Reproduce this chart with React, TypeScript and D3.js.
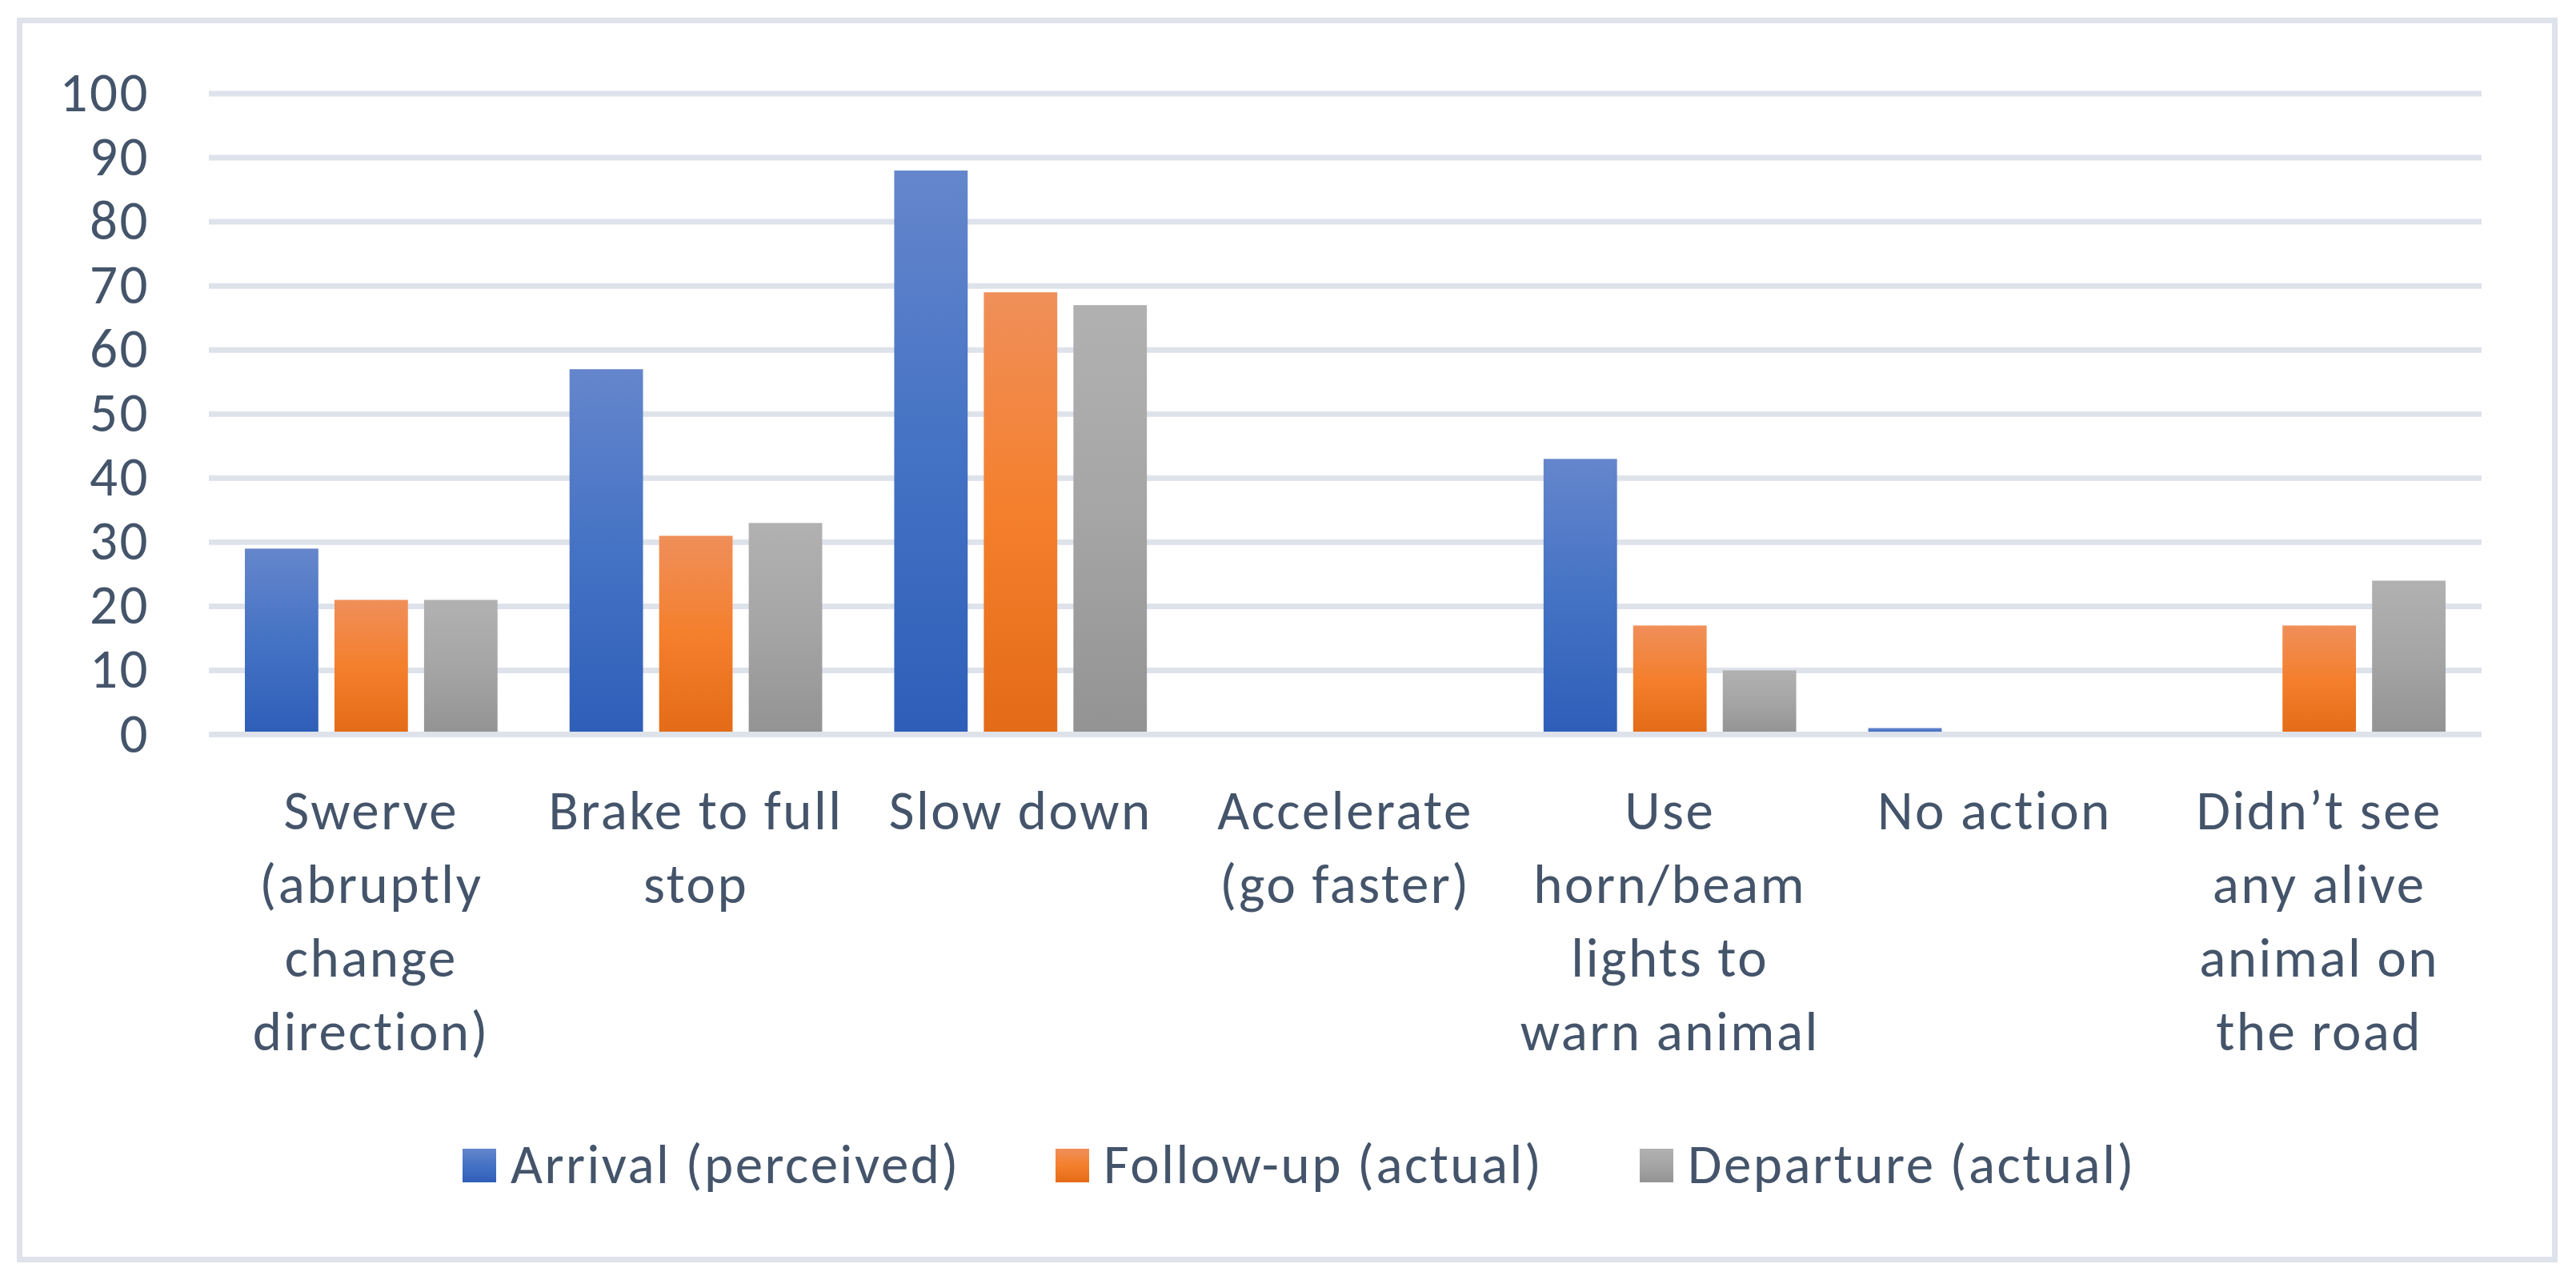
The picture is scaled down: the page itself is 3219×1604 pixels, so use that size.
import React, { useEffect, useRef } from 'react';
import * as d3 from 'd3';

// categories (line breaks as they wrap under the axis)
const categoryLabels: string[][] = [
  ['Swerve', '(abruptly', 'change', 'direction)'],
  ['Brake to full', 'stop'],
  ['Slow down'],
  ['Accelerate', '(go faster)'],
  ['Use', 'horn/beam', 'lights to', 'warn animal'],
  ['No action'],
  ['Didn’t see', 'any alive', 'animal on', 'the road'],
];
const categories = categoryLabels.map(l => l.join(' '));

const seriesNames = ['Arrival (perceived)', 'Follow-up (actual)', 'Departure (actual)'];
const arrival = [29, 57, 88, 0, 43, 1, 0];
const followUp = [21, 31, 69, 0, 17, 0, 17];
const departure = [21, 33, 67, 0, 10, 0, 24];
const seriesValues = [arrival, followUp, departure];

const yTicks = [0, 10, 20, 30, 40, 50, 60, 70, 80, 90, 100];

// gradient stops per series: top, middle, bottom
const gradients = [
  ['#6586CC', '#4472C4', '#2E5EB8'],
  ['#F08F5A', '#F47F2C', '#E36B17'],
  ['#B1B1B1', '#A5A5A5', '#939393'],
];

const W = 3219;
const H = 1604;
const FONT = 'Carlito, Calibri, Lato, sans-serif';
const FONT_SIZE = 69;
const SPACING = 2.5; // Lato is a bit narrower than Calibri
const TEXT = '#44546A';
const GRID = '#DEE2EA';

const App: React.FC = () => {
  const svgRef = useRef<SVGSVGElement>(null);

  useEffect(() => {
    const svg = d3.select(svgRef.current);
    svg.selectAll('*').remove();

    const defs = svg.append('defs');
    gradients.forEach((g, i) => {
      const lg = defs.append('linearGradient')
        .attr('id', `grad${i}`)
        .attr('x1', 0).attr('y1', 0).attr('x2', 0).attr('y2', 1);
      lg.append('stop').attr('offset', '0%').attr('stop-color', g[0]);
      lg.append('stop').attr('offset', '50%').attr('stop-color', g[1]);
      lg.append('stop').attr('offset', '100%').attr('stop-color', g[2]);
    });

    svg.append('rect')
      .attr('width', W).attr('height', H).attr('fill', '#fff');

    // outer chart border
    svg.append('rect')
      .attr('x', 24.5).attr('y', 25.5)
      .attr('width', 3168).attr('height', 1548)
      .attr('fill', 'none')
      .attr('stroke', GRID)
      .attr('stroke-width', 7);

    const x0 = d3.scaleBand<string>().domain(categories).range([261, 3101]);
    const x1 = d3.scaleBand<string>()
      .domain(seriesNames)
      .range([45, x0.bandwidth() - 45])
      .paddingInner(0.18);
    const y = d3.scaleLinear().domain([0, 100]).range([917.5, 117]);

    // gridlines
    svg.append('g')
      .selectAll('line')
      .data(yTicks.filter(t => t > 0))
      .enter().append('line')
      .attr('x1', 261).attr('x2', 3101)
      .attr('y1', d => y(d)).attr('y2', d => y(d))
      .attr('stroke', GRID)
      .attr('stroke-width', 7);

    // y tick labels
    svg.append('g')
      .selectAll('text')
      .data(yTicks)
      .enter().append('text')
      .attr('x', 187)
      .attr('y', d => y(d) + 22)
      .attr('text-anchor', 'end')
      .attr('font-family', FONT)
      .attr('font-size', FONT_SIZE)
      .attr('letter-spacing', SPACING)
      .attr('fill', TEXT)
      .text(d => d);

    // bars
    const groups = svg.append('g')
      .selectAll('g')
      .data(categories)
      .enter().append('g')
      .attr('transform', d => `translate(${x0(d)},0)`);

    groups.selectAll('rect')
      .data((_d, ci) => seriesNames.map((s, si) => ({ s, si, v: seriesValues[si][ci] })))
      .enter().append('rect')
      .filter(d => d.v > 0)
      .attr('x', d => x1(d.s)!)
      .attr('width', x1.bandwidth())
      .attr('y', d => y(d.v))
      .attr('height', d => y(0) - y(d.v))
      .attr('fill', d => `url(#grad${d.si})`);

    // horizontal axis line
    svg.append('line')
      .attr('x1', 261).attr('x2', 3101)
      .attr('y1', y(0)).attr('y2', y(0))
      .attr('stroke', GRID)
      .attr('stroke-width', 7);

    // category labels
    const labels = svg.append('g')
      .selectAll('text')
      .data(categoryLabels)
      .enter().append('text')
      .attr('text-anchor', 'middle')
      .attr('font-family', FONT)
      .attr('font-size', FONT_SIZE)
      .attr('letter-spacing', SPACING)
      .attr('fill', TEXT);

    labels.each(function (lines, i) {
      const cx = x0(categories[i])! + x0.bandwidth() / 2;
      d3.select(this).selectAll('tspan')
        .data(lines)
        .enter().append('tspan')
        .attr('x', cx)
        .attr('y', (_l, j) => 1036 + j * 92)
        .text(l => l);
    });

    // legend
    const legendX = [578, 1319, 2049];
    const legend = svg.append('g')
      .selectAll('g')
      .data(seriesNames)
      .enter().append('g')
      .attr('transform', (_d, i) => `translate(${legendX[i]},0)`);

    legend.append('rect')
      .attr('x', 0).attr('y', 1435)
      .attr('width', 42).attr('height', 42)
      .attr('fill', (_d, i) => `url(#grad${i})`);

    legend.append('text')
      .attr('x', 60)
      .attr('y', 1478)
      .attr('font-family', FONT)
      .attr('font-size', FONT_SIZE)
      .attr('letter-spacing', SPACING)
      .attr('fill', TEXT)
      .text(d => d);
  }, []);

  return (
    <svg
      ref={svgRef}
      width={W}
      height={H}
      style={{ position: 'absolute', left: 0, top: 0 }}
    />
  );
};

export default App;
